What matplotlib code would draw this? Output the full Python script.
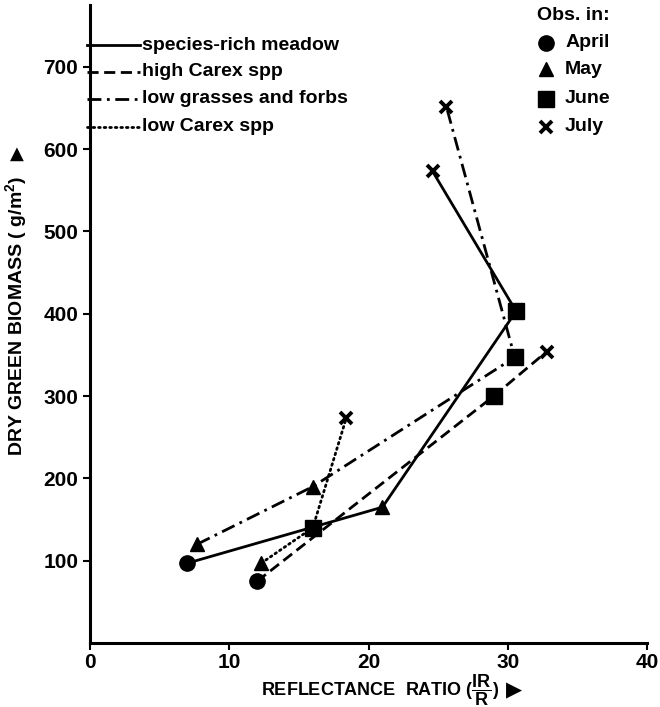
import matplotlib.pyplot as plt
from matplotlib.lines import Line2D

plt.rcParams['font.family'] = ['Liberation Sans', 'DejaVu Sans']
plt.rcParams['font.weight'] = 'bold'
plt.rcParams['mathtext.fontset'] = 'custom'
plt.rcParams['mathtext.bf'] = 'Liberation Sans:bold'
plt.rcParams['mathtext.rm'] = 'Liberation Sans:bold'

# series, in the order the lines are drawn
rich_x = [7.0, 21.0, 30.6, 24.6]
rich_y = [97, 165, 403, 573]
rich_m = ['o', '^', 's', 'x']

high_x = [12.0, 29.0, 32.8]
high_y = [75, 300, 354]
high_m = ['o', 's', 'x']

grass_x = [7.7, 16.0, 30.5, 25.6]
grass_y = [120, 190, 347, 651]
grass_m = ['^', '^', 's', 'x']

lowc_x = [12.3, 16.0, 18.4]
lowc_y = [97, 140, 273]
lowc_m = ['^', 's', 'x']

names = ['species-rich meadow', 'high Carex spp', 'low grasses and forbs', 'low Carex spp']
months = ['April', 'May', 'June', 'July']
month_markers = ['o', '^', 's', 'x']

styles = ['-', (0, (4, 2)), (0, (5, 2, 1, 2)), (0, (0.6, 1.4))]
sizes = {'o': 11, '^': 10, 's': 11, 'x': 8}

fig = plt.figure(figsize=(6.6, 7.07), dpi=100)
ax = fig.add_axes([90 / 660, 1 - 643 / 707, 557 / 660, 638 / 707])

series = [(rich_x, rich_y, rich_m), (high_x, high_y, high_m),
          (grass_x, grass_y, grass_m), (lowc_x, lowc_y, lowc_m)]
for (xs, ys, ms), ls in zip(series, styles):
    ax.plot(xs, ys, color='black', lw=2.0, linestyle=ls,
            dash_capstyle='round' if ls == styles[3] else 'butt', zorder=2)
    for x, y, m in zip(xs, ys, ms):
        ax.plot(x, y, marker=m, color='black', ms=sizes[m], mew=2.8 if m == 'x' else 1,
                linestyle='none', zorder=3)

ax.set_xlim(0, 40)
ax.set_ylim(0, 775)
ax.set_xticks([0, 10, 20, 30, 40])
ax.set_yticks([100, 200, 300, 400, 500, 600, 700])
for s in ['top', 'right']:
    ax.spines[s].set_visible(False)
for s in ['left', 'bottom']:
    ax.spines[s].set_linewidth(2.2)
ax.tick_params(axis='both', labelsize=15, width=1.5, length=5, direction='out')
ax.tick_params(axis='x', pad=2)
for lab in ax.get_xticklabels() + ax.get_yticklabels():
    lab.set_fontweight('bold')

# axis titles
xl = fig.text(380 / 660, 1 - 690 / 707,
              r'REFLECTANCE  RATIO ($\dfrac{\mathbf{IR}}{\mathbf{R}}$)',
              fontsize=13, fontweight='bold', ha='center', va='center')
fig.canvas.draw()
bb = xl.get_window_extent()
fig.text((bb.x1 + 7) / 660, 1 - 690 / 707, '▶', family='DejaVu Sans', fontsize=15,
         ha='left', va='center')
fig.text(17 / 660, 1 - 316 / 707, 'DRY GREEN BIOMASS ( g/m$^\\mathbf{2}$)', fontsize=14,
         fontweight='bold', rotation=90, ha='center', va='center')
fig.text(17 / 660, 1 - 154 / 707, '▲', family='DejaVu Sans', fontsize=13,
         rotation=0, ha='center', va='center')

# line legend (top left)
rows = [0.937, 0.895, 0.853, 0.809]
for name, ls, yy in zip(names, styles, rows):
    ax.add_line(Line2D([-0.005, 0.09], [yy, yy], transform=ax.transAxes, color='black',
                       lw=2.0, linestyle=ls, clip_on=False,
                       dash_capstyle='round' if ls == styles[3] else 'butt'))
    ax.text(0.093, yy, name, transform=ax.transAxes, fontsize=14, fontweight='bold',
            va='center', ha='left')

# marker legend (top right)
ax.text(0.803, 0.984, 'Obs. in:', transform=ax.transAxes, fontsize=14,
        fontweight='bold', va='center', ha='left')
for mon, m, yy in zip(months, month_markers, [0.941, 0.899, 0.853, 0.809]):
    ax.plot([0.819], [yy], marker=m, color='black', ms=sizes[m],
            mew=2.8 if m == 'x' else 1, transform=ax.transAxes, clip_on=False)
    ax.text(0.853, yy, mon, transform=ax.transAxes, fontsize=14, fontweight='bold',
            va='center', ha='left')

fig.savefig('out.png', dpi=100)
